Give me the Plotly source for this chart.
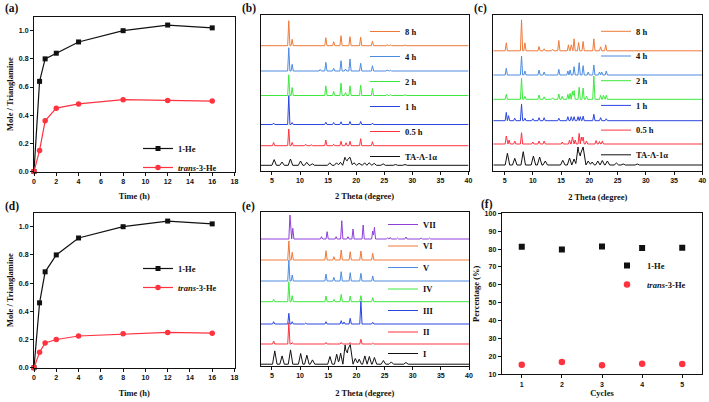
import plotly.graph_objects as go

W, H = 709, 402

# ---------------- data ----------------
time_h = [0, 0.5, 1, 2, 4, 8, 12, 16]
a_1He = [0, 0.64, 0.80, 0.84, 0.92, 1.00, 1.04, 1.02]
a_trans = [0, 0.15, 0.36, 0.45, 0.48, 0.51, 0.505, 0.50]
d_1He = [0, 0.46, 0.68, 0.80, 0.92, 1.00, 1.04, 1.02]
d_trans = [0, 0.11, 0.175, 0.20, 0.225, 0.24, 0.25, 0.245]

cycles = [1, 2, 3, 4, 5]
f_1He = [81.3, 79.8, 81.5, 80.6, 80.7]
f_trans = [15.4, 16.9, 15.0, 15.9, 15.7]

# XRD peak lists: (2theta, relative intensity)
b_TA = [(5.4, 5.7), (6.8, 3.3), (8.3, 6.3), (10.1, 4.3), (11.2, 3.0), (12.2, 1.5), (15.3, 2.5),
        (16.5, 2.5), (17.2, 3.0), (18.0, 8.0), (18.5, 6.0), (18.9, 8.0), (19.6, 2.5), (20.5, 2.0),
        (21.5, 2.5), (22.3, 2.5), (23.2, 2.0), (24.8, 1.5), (27.0, 0.8), (28.7, 0.8)]
b_05 = [(5.3, 3.3), (8.0, 16.7), (8.6, 3.3), (11.0, 1.5), (12.0, 1.0), (14.6, 5.7), (16.0, 1.5),
        (17.3, 4.5), (18.2, 3.0), (18.9, 4.5), (20.8, 7.0), (22.9, 4.0)]
b_1 = [(5.3, 1.5), (8.0, 29.0), (8.6, 2.0), (14.6, 2.3), (16.0, 2.0), (17.3, 2.7), (18.9, 3.0),
       (20.8, 3.0), (22.9, 1.5)]
b_2 = [(8.0, 20.7), (8.6, 8.0), (14.6, 9.7), (16.0, 4.0), (17.3, 12.4), (18.1, 3.0), (18.9, 9.7),
       (20.8, 10.4), (22.9, 7.0), (25.5, 1.0), (26.1, 1.0), (28.7, 1.0)]
b_4 = [(8.0, 23.3), (8.6, 6.7), (13.6, 1.5), (14.6, 8.7), (16.0, 2.7), (17.3, 10.3), (18.1, 2.0),
       (18.9, 12.0), (20.8, 7.7), (22.9, 5.3), (25.5, 0.8), (26.1, 0.8)]
b_8 = [(8.0, 25.0), (8.6, 6.4), (14.6, 8.0), (16.0, 4.0), (17.3, 10.0), (18.9, 9.0), (20.8, 8.5),
       (22.9, 4.5), (25.5, 0.8), (26.1, 0.8), (28.7, 0.8)]

c_TA = [(5.5, 11.7), (6.8, 6.7), (8.3, 13.3), (10.1, 9.0), (11.2, 8.0), (12.2, 4.0), (15.3, 4.7),
        (16.5, 7.0), (17.3, 6.0), (18.0, 18.0), (18.5, 12.0), (18.9, 18.0), (19.8, 4.0), (20.5, 3.0),
        (21.5, 4.0), (22.3, 4.5), (23.2, 4.0), (24.8, 2.0), (26.0, 1.0), (28.5, 1.0)]
c_05 = [(5.3, 8.0), (5.8, 4.0), (6.8, 3.0), (8.0, 11.3), (10.0, 2.0), (11.1, 3.0), (12.0, 3.0),
        (15.2, 2.0), (16.5, 4.0), (17.0, 7.0), (17.5, 4.0), (18.2, 10.7), (18.6, 7.0), (18.9, 7.0),
        (19.5, 3.0), (21.2, 3.5), (21.8, 2.5), (22.3, 3.0)]
c_1 = [(5.3, 8.3), (5.7, 5.0), (6.8, 2.5), (8.0, 16.7), (8.6, 2.5), (10.0, 2.0), (11.1, 3.0),
       (12.0, 3.0), (14.6, 2.5), (16.2, 4.0), (16.8, 4.0), (17.3, 4.0), (18.0, 4.0), (18.4, 4.0),
       (18.9, 4.5), (20.8, 6.4), (22.0, 3.0), (23.0, 2.0)]
c_2 = [(5.3, 5.0), (8.0, 21.0), (8.6, 3.0), (11.1, 4.3), (12.0, 2.5), (13.5, 1.5), (14.6, 5.3),
       (15.2, 3.0), (16.2, 5.0), (16.6, 6.0), (17.0, 8.0), (17.3, 8.7), (18.2, 12.0), (18.9, 11.3),
       (19.5, 3.0), (20.8, 23.3), (22.0, 4.0), (22.5, 4.0), (23.0, 4.0)]
c_4 = [(5.3, 6.7), (8.0, 19.0), (8.6, 4.0), (11.1, 5.0), (12.0, 3.0), (14.6, 5.7), (16.2, 4.0),
       (16.6, 5.0), (17.3, 8.3), (18.2, 12.3), (18.9, 9.3), (19.8, 3.0), (20.8, 10.0), (21.8, 3.0),
       (22.2, 3.0), (23.0, 4.0)]
c_8 = [(5.3, 8.0), (8.0, 31.0), (8.6, 8.0), (11.1, 4.3), (12.0, 2.0), (13.5, 1.5), (14.6, 10.3),
       (16.3, 6.0), (16.8, 6.0), (17.3, 12.0), (18.1, 8.3), (18.9, 9.3), (20.8, 12.0), (22.0, 4.0),
       (22.9, 6.0)]

e_I = [(5.5, 13.3), (6.8, 8.3), (8.3, 14.3), (10.1, 10.7), (11.2, 9.0), (12.2, 4.3), (15.3, 7.7),
       (16.5, 10.0), (17.2, 11.0), (18.0, 19.3), (18.5, 15.0), (18.9, 19.7), (19.8, 5.7), (20.5, 5.0),
       (21.5, 8.3), (22.3, 7.7), (23.2, 6.7), (24.8, 3.7), (26.2, 2.3), (28.8, 1.7)]
e_II = [(5.3, 3.0), (8.0, 21.3), (8.6, 1.5), (14.6, 1.5), (17.3, 1.5), (18.9, 1.5), (20.8, 4.7),
        (22.9, 1.0)]
e_III = [(5.3, 2.3), (8.0, 10.7), (8.6, 2.3), (11.0, 1.0), (14.6, 2.3), (17.3, 3.3), (17.8, 2.0),
         (18.9, 5.7), (20.8, 23.0), (22.9, 1.7)]
e_IV = [(5.3, 2.3), (8.0, 20.0), (8.6, 6.0), (14.6, 5.7), (16.0, 2.3), (17.3, 7.3), (18.9, 5.7),
        (20.8, 6.0), (22.9, 4.0)]
e_V = [(8.0, 21.0), (8.6, 6.0), (14.6, 7.0), (16.0, 3.7), (17.3, 9.3), (18.9, 8.3), (20.8, 7.7),
       (22.9, 5.0)]
e_VI = [(8.0, 19.0), (8.6, 7.7), (14.6, 9.3), (16.0, 3.3), (17.3, 10.0), (18.9, 8.3), (20.8, 9.0),
        (22.9, 6.7)]
e_VII = [(8.2, 24.0), (8.7, 10.7), (13.8, 2.3), (14.8, 7.3), (16.4, 2.3), (17.4, 18.3), (18.5, 2.3),
         (19.4, 10.0), (21.2, 14.0), (22.9, 8.0), (23.2, 11.7), (25.5, 1.0), (26.0, 1.5), (27.3, 1.0),
         (28.8, 2.0), (31.5, 1.0), (33.0, 1.0)]

b_labels = ["TA-Λ-1α", "0.5 h", "1 h", "2 h", "4 h", "8 h"]
e_labels = ["I", "II", "III", "IV", "V", "VI", "VII"]

# ---------------- styling ----------------
BLACK = "#111111"
RED = "#ff3340"
ORANGE = "#ee7a3a"
LBLUE = "#4d8be0"
GREEN = "#3ee83e"
BLUE = "#2a45e0"
PURPLE = "#8e3fd8"
SERIF = "Liberation Serif"
SANS = "Liberation Sans"

def px_x(a, b):
    return [a / W, b / W]

def px_y(top, bottom):
    return [1 - bottom / H, 1 - top / H]

def profile(peaks, base, w):
    xs = sorted(set([3.0, 40.0] + [p + d for p, _ in peaks for d in (-w, 0.0, w)]))
    ys = [base + sum(max(0.0, h * (1 - abs(x - p) / w)) for p, h in peaks) for x in xs]
    return xs, ys

fig = go.Figure()

# ---- panels (a) and (d) ----
for xa, ya, lg, s1, s2 in [("x", "y", "legend", a_1He, a_trans), ("x4", "y4", "legend4", d_1He, d_trans)]:
    fig.add_trace(go.Scatter(x=time_h, y=s1, xaxis=xa, yaxis=ya, mode="lines+markers", name="1-He",
                             line=dict(color=BLACK, width=1.2), marker=dict(symbol="square", size=5, color=BLACK),
                             legend=lg, cliponaxis=False))
    fig.add_trace(go.Scatter(x=time_h, y=s2, xaxis=xa, yaxis=ya, mode="lines+markers", name="<i>trans</i>-3-He",
                             line=dict(color=RED, width=1.2), marker=dict(symbol="circle", size=5.5, color=RED),
                             legend=lg, cliponaxis=False))

# ---- panel (b) ----
b_sets = [b_TA, b_05, b_1, b_2, b_4, b_8]
b_off = [5.2, 24.8, 46.0, 75.0, 99.5, 124.8]
bc_cols = [BLACK, RED, BLUE, GREEN, LBLUE, ORANGE]
for i, (pk, off, col, lab) in enumerate(zip(b_sets, b_off, bc_cols, b_labels)):
    xs, ys = profile(pk, off, 0.4 if i == 0 else 0.2)
    fig.add_trace(go.Scatter(x=xs, y=ys, xaxis="x2", yaxis="y2", mode="lines", name=lab,
                             line=dict(color=col, width=1), legend="legend2", legendgroup="b%d" % i,
                             legendrank=100 - i))

# ---- panel (c) ----
c_sets = [c_TA, c_05, c_1, c_2, c_4, c_8]
c_off = [6.0, 27.0, 50.3, 71.7, 96.0, 120.2]
for i, (pk, off, col, lab) in enumerate(zip(c_sets, c_off, bc_cols, b_labels)):
    xs, ys = profile(pk, off, 0.4 if i == 0 else 0.2)
    fig.add_trace(go.Scatter(x=xs, y=ys, xaxis="x3", yaxis="y3", mode="lines", name=lab,
                             line=dict(color=col, width=1), legend="legend3", legendgroup="c%d" % i,
                             legendrank=100 - i))

# ---- panel (e) ----
e_sets = [e_I, e_II, e_III, e_IV, e_V, e_VI, e_VII]
e_off = [1.5, 21.7, 41.7, 64.0, 84.7, 105.7, 126.7]
e_cols = [BLACK, RED, BLUE, GREEN, LBLUE, ORANGE, PURPLE]
for i, (pk, off, col, lab) in enumerate(zip(e_sets, e_off, e_cols, e_labels)):
    xs, ys = profile(pk, off, 0.4 if i == 0 else 0.2)
    fig.add_trace(go.Scatter(x=xs, y=ys, xaxis="x5", yaxis="y5", mode="lines", name=lab,
                             line=dict(color=col, width=1), legend="legend5", legendgroup="e%d" % i,
                             legendrank=100 - i))

# ---- panel (f) ----
fig.add_trace(go.Scatter(x=cycles, y=f_1He, xaxis="x6", yaxis="y6", mode="markers", name="1-He",
                         marker=dict(symbol="square", size=6, color=BLACK), legend="legend6"))
fig.add_trace(go.Scatter(x=cycles, y=f_trans, xaxis="x6", yaxis="y6", mode="markers", name="<i>trans</i>-3-He",
                         marker=dict(symbol="circle", size=6.5, color=RED), legend="legend6"))

tickfont = dict(family=SANS, size=7, color=BLACK, weight="bold")
titlefont = dict(family=SERIF, size=8.5, color=BLACK, weight="bold")
legfont = dict(family=SERIF, size=8.5, color=BLACK, weight="bold")

def axis(dom, rng, anchor, **kw):
    d = dict(domain=dom, range=rng, anchor=anchor, showline=True, linecolor=BLACK, linewidth=1,
             mirror=True, ticks="outside", ticklen=3, tickwidth=1, tickcolor=BLACK,
             showgrid=False, zeroline=False, tickfont=tickfont, ticklabeloverflow="allow")
    d.update(kw)
    return d

xa_dom = px_x(34, 234.5)
xb_dom = px_x(260.7, 468.5)
xc_dom = px_x(493.3, 702.3)
xe_dom = px_x(260.7, 469)
xf_dom = px_x(501.7, 702.3)

def ttl(text, standoff):
    return dict(text=text, font=titlefont, standoff=standoff)

layout = dict(
    width=W, height=H, margin=dict(l=0, r=0, t=0, b=0, autoexpand=False),
    paper_bgcolor="white", plot_bgcolor="white", showlegend=True,
    xaxis=axis(xa_dom, [0, 18], "y", dtick=2, title=ttl("Time (h)", 9)),
    yaxis=axis(px_y(16.6, 171.5), [0, 1.1], "x", dtick=0.2, tickformat=".1f",
               title=ttl("Mole / Trianglamine", 3)),
    xaxis4=axis(xa_dom, [0, 18], "y4", dtick=2, title=ttl("Time (h)", 9)),
    yaxis4=axis(px_y(212.6, 367.7), [0, 1.1], "x4", dtick=0.2, tickformat=".1f",
                title=ttl("Mole / Trianglamine", 3)),
    xaxis2=axis(xb_dom, [3, 40], "y2", tickvals=[5, 10, 15, 20, 25, 30, 35, 40],
                title=ttl("2 Theta (degree)", 10)),
    yaxis2=axis(px_y(15, 170.5), [0, 155.5], "x2", ticks="", showticklabels=False),
    xaxis3=axis(xc_dom, [3, 40], "y3", tickvals=[5, 10, 15, 20, 25, 30, 35, 40],
                title=ttl("2 Theta (degree)", 10)),
    yaxis3=axis(px_y(15, 171), [0, 156], "x3", ticks="", showticklabels=False),
    xaxis5=axis(xe_dom, [3, 40], "y5", tickvals=[5, 10, 15, 20, 25, 30, 35, 40],
                title=ttl("2 Theta (degree)", 11)),
    yaxis5=axis(px_y(212.3, 365.7), [0, 153.4], "x5", ticks="", showticklabels=False),
    xaxis6=axis(xf_dom, [0.5, 5.5], "y6", tickvals=cycles, title=ttl("Cycles", 2)),
    yaxis6=axis(px_y(213.3, 374.3), [10, 100], "x6", dtick=10, title=ttl("Percentage (%)", 3)),
    legend=dict(x=138 / W, y=1 - 134 / H, xanchor="left", yanchor="top", font=legfont,
                bgcolor="rgba(0,0,0,0)", itemwidth=30),
    legend4=dict(x=138 / W, y=1 - 254 / H, xanchor="left", yanchor="top", font=legfont,
                 bgcolor="rgba(0,0,0,0)", itemwidth=30),
    legend2=dict(x=365 / W, y=1 - 17 / H, xanchor="left", yanchor="top", font=legfont,
                 bgcolor="rgba(0,0,0,0)", traceorder="grouped", tracegroupgap=6, itemwidth=30),
    legend3=dict(x=596 / W, y=1 - 16.8 / H, xanchor="left", yanchor="top", font=legfont,
                 bgcolor="rgba(0,0,0,0)", traceorder="grouped", tracegroupgap=5.7, itemwidth=30),
    legend5=dict(x=383 / W, y=1 - 210 / H, xanchor="left", yanchor="top", font=legfont,
                 bgcolor="rgba(0,0,0,0)", traceorder="grouped", tracegroupgap=2.5, itemwidth=30),
    legend6=dict(x=607 / W, y=1 - 251 / H, xanchor="left", yanchor="top", font=legfont,
                 bgcolor="rgba(0,0,0,0)", itemwidth=30),
)

panel_labels = [("(a)", 3, 9), ("(b)", 240, 9), ("(c)", 472, 9),
                ("(d)", 3, 206), ("(e)", 240, 206), ("(f)", 479, 205)]
layout["annotations"] = [dict(text=t, x=px / W, y=1 - py / H, xref="paper", yref="paper",
                              xanchor="left", yanchor="middle", showarrow=False,
                              font=dict(family=SERIF, size=11.5, color=BLACK, weight="bold"))
                         for t, px, py in panel_labels]

fig.update_layout(**layout)
fig.write_html("out.html", config={"displayModeBar": False, "staticPlot": True},
               post_script="document.body.style.margin='0px';")
